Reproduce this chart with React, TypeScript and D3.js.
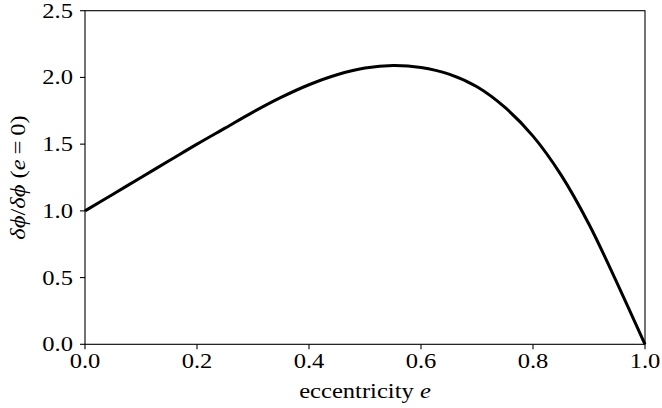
import React from "react";
import * as d3 from "d3";

const eccentricity = [0, 0.05, 0.1, 0.15, 0.2, 0.25, 0.3, 0.35, 0.4, 0.45, 0.5, 0.55, 0.6, 0.65, 0.7, 0.75, 0.8, 0.85, 0.9, 0.95, 1.0];
const ratio = [1.0, 1.125, 1.25, 1.375, 1.5, 1.62, 1.74, 1.85, 1.945, 2.02, 2.07, 2.09, 2.075, 2.025, 1.93, 1.775, 1.56, 1.27, 0.9, 0.46, 0.0];
const xTicks = [0, 0.2, 0.4, 0.6, 0.8, 1.0];
const yTicks = [0, 0.5, 1.0, 1.5, 2.0, 2.5];

const W = 662;
const H = 408;
const left = 85;
const right = 645;
const top = 10.7;
const bottom = 344.3;
const FONT = '"Liberation Serif", "Times New Roman", serif';
const SX = 1.17;

export default function App() {
  const x = d3.scaleLinear().domain([0, 1]).range([left, right]);
  const y = d3.scaleLinear().domain([0, 2.5]).range([bottom, top]);
  const pts = eccentricity.map((e, i) => [e, ratio[i]] as [number, number]);
  const line = d3
    .line<[number, number]>()
    .x((d) => x(d[0]))
    .y((d) => y(d[1]))
    .curve(d3.curveCatmullRom.alpha(0.5));
  const fs = 21;
  const ts = { fontFamily: FONT };
  return (
    <svg width={W} height={H} style={{ position: "absolute", left: 0, top: 0, background: "#fff" }}>
      <rect x={0} y={0} width={W} height={H} fill="#fff" />
      <path d={line(pts) || ""} fill="none" stroke="#000" strokeWidth={3} strokeLinejoin="round" />
      <rect x={left} y={top} width={right - left} height={bottom - top} fill="none" stroke="#000" strokeWidth={1.1} />
      {xTicks.map((t) => (
        <g key={"x" + t}>
          <line x1={x(t)} x2={x(t)} y1={bottom} y2={bottom + 5} stroke="#000" strokeWidth={1.1} />
          <text style={ts} transform={`translate(${x(t)},${bottom + 24}) scale(${SX},1)`} textAnchor="middle" fontSize={fs} fill="#000">
            {t.toFixed(1)}
          </text>
        </g>
      ))}
      {yTicks.map((t) => (
        <g key={"y" + t}>
          <line x1={left - 5} x2={left} y1={y(t)} y2={y(t)} stroke="#000" strokeWidth={1.1} />
          <text style={ts} transform={`translate(${left - 12},${y(t) + 7}) scale(${SX},1)`} textAnchor="end" fontSize={fs} fill="#000">
            {t.toFixed(1)}
          </text>
        </g>
      ))}
      <text style={ts} transform={`translate(${(left + right) / 2},398) scale(${SX},1)`} textAnchor="middle" fontSize={fs} fill="#000">
        eccentricity <tspan fontStyle="italic">e</tspan>
      </text>
      <text
        style={ts}
        transform={`translate(25,${(top + bottom) / 2}) rotate(-90) scale(${SX},1)`}
        textAnchor="middle"
        fontSize={fs}
        fill="#000"
      >
        <tspan fontStyle="italic">δϕ</tspan>/<tspan fontStyle="italic">δϕ</tspan> (<tspan fontStyle="italic">e</tspan>
        {"\u2009=\u2009"}0)
      </text>
    </svg>
  );
}
